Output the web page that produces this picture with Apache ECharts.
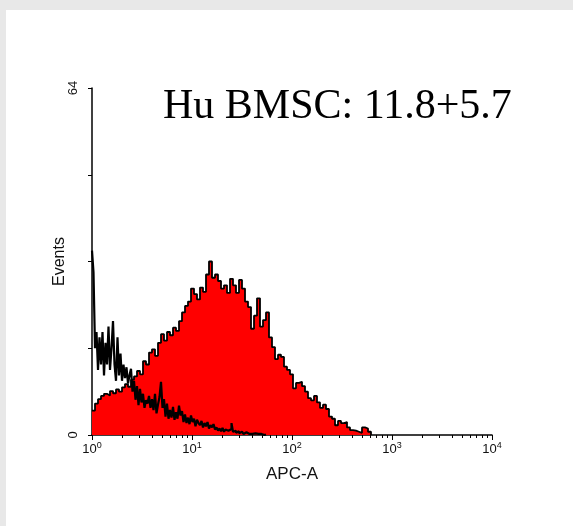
<!DOCTYPE html>
<html>
<head>
<meta charset="utf-8">
<script src="https://cdn.jsdelivr.net/npm/echarts@6/dist/echarts.min.js"></script>
<style>
html,body{margin:0;padding:0;background:#fff;}
#c{width:573px;height:526px;}
</style>
</head>
<body>
<div id="c"></div>
<script>
// Histogram bins: left edges in log10(APC-A) units
const binStartLog = 0;
const stainedBinWidthLog = 0.03;
const controlBinWidthLog = 0.015;
// Red (stained) histogram counts, events per bin
const stainedCounts = [
  4.5, 5.8, 6.6, 7.2, 7.6, 7.3, 8.1, 7.7, 8.4, 8.0,
  8.8, 9.4, 8.9, 10.2, 10.8, 11.8, 11.2, 13.6, 13.0, 15.2,
  15.8, 14.6, 17.0, 18.6, 17.4, 19.0, 18.4, 19.8, 19.2, 21.0,
  22.6, 23.8, 24.6, 27.0, 26.0, 25.0, 27.2, 26.4, 29.6, 32.0,
  29.0, 29.6, 28.4, 27.0, 27.6, 26.2, 28.8, 27.6, 26.2, 28.6,
  27.0, 24.6, 23.6, 19.6, 22.0, 25.2, 20.0, 21.2, 22.6, 18.0,
  16.2, 14.0, 14.8, 14.4, 12.6, 12.0, 11.2, 8.6, 9.6, 9.8,
  9.0, 8.0, 6.8, 6.4, 7.2, 6.0, 5.0, 5.6, 4.8, 3.4,
  3.0, 1.8, 2.6, 2.2, 2.4, 1.4, 0.9, 0.8, 0.6, 0.4,
  1.4, 1.2, 0.6, 0
];
// Black (control) histogram counts, events per bin
const controlCounts = [
  34, 30, 16, 19, 12, 18, 13, 19, 11, 17,
  13, 20, 12, 16, 21, 13, 10, 18, 11, 15,
  10, 13, 10.5, 12.5, 9.5, 11, 12.2, 8, 10, 6.5,
  9, 5.5, 8.5, 6, 7.6, 5, 6.4, 5.8, 7.2, 5,
  6.6, 4.6, 7.6, 4, 5.6, 7, 9.8, 5, 6.6, 3.4,
  5.8, 3, 4.6, 3.2, 5.2, 2.8, 4.2, 3, 5.4, 3.6,
  4.4, 2.4, 3.8, 2.2, 3.2, 2, 3.6, 2.4, 3, 1.6,
  2.8, 2.2, 1.8, 2.6, 1.4, 2.2, 1.6, 2.4, 1.2, 1.8,
  1.4, 2, 1, 1.4, 0.8, 1.2, 0.7, 1.3, 0.6, 1,
  0.8, 0.5, 1.1, 2.2, 0.6, 0.8, 0.4, 0.7, 0.3, 0.6,
  0.4, 0.2, 0.5, 0.3, 0.2, 0.4, 0.2, 0.1, 0.3, 0.1,
  0.2, 0, 0.2, 0.1, 0, 0.1, 0
];
const xDecades = [0, 1, 2, 3, 4];
const yTickLabels = [0, 64];
const titleText = 'Hu BMSC: 11.8+5.7';
const xName = 'APC-A';
const yName = 'Events';

const toPairs = (arr, w) => arr.map((v, i) => [binStartLog + i * w, v]);
const minorTicks = [];
xDecades.slice(0, -1).forEach(d => { for (let m = 2; m <= 9; m++) minorTicks.push(d + Math.log10(m)); });

const chart = echarts.init(document.getElementById('c'), null, {renderer: 'canvas'});
const grid = {left: 92, top: 88, width: 400, height: 347};
chart.setOption({
  animation: false,
  backgroundColor: '#fff',
  title: {
    text: titleText, left: 163, top: 86, padding: 0,
    textStyle: {fontFamily: 'Liberation Serif', fontSize: 42, fontWeight: 'normal', color: '#000'}
  },
  graphic: [
    {type: 'rect', z: -10, shape: {x: 0, y: 0, width: 573, height: 10}, style: {fill: '#e8e8e8'}},
    {type: 'rect', z: -10, shape: {x: 0, y: 0, width: 6, height: 526}, style: {fill: '#e8e8e8'}}
  ],
  grid: grid,
  xAxis: [{
    type: 'value', min: 0, max: 4, interval: 1,
    name: xName, nameLocation: 'middle', nameGap: 31,
    nameTextStyle: {fontFamily: 'Liberation Sans', fontSize: 17, color: '#111'},
    axisLine: {lineStyle: {color: '#000', width: 1.5}},
    axisTick: {length: 5, lineStyle: {color: '#000', width: 1}},
    splitLine: {show: false},
    axisLabel: {
      margin: 6,
      formatter: v => '10{s|' + v + '}',
      fontFamily: 'Liberation Sans', fontSize: 13, color: '#111',
      rich: {s: {fontFamily: 'Liberation Sans', fontSize: 9, color: '#111', padding: [0, 0, 8, 0]}}
    }
  }, {
    type: 'value', min: 0, max: 4, position: 'bottom',
    gridIndex: 0,
    axisLine: {show: false},
    axisLabel: {show: false},
    splitLine: {show: false},
    axisTick: {show: true, length: 3, customValues: minorTicks, lineStyle: {color: '#000', width: 1}}
  }],
  yAxis: {
    type: 'value', min: 0, max: 64, interval: 16,
    name: yName, nameLocation: 'middle', nameGap: 24, nameMoveOverlap: false,
    nameTextStyle: {fontFamily: 'Liberation Sans', fontSize: 16, color: '#111'},
    axisLine: {show: true, lineStyle: {color: '#000', width: 1.5}},
    axisTick: {show: true, length: 4, lineStyle: {color: '#000', width: 1}},
    splitLine: {show: false},
    axisLabel: {
      rotate: 90, margin: 12,
      formatter: v => yTickLabels.indexOf(v) >= 0 ? String(v) : '',
      fontFamily: 'Liberation Sans', fontSize: 13, color: '#111'
    }
  },
  series: [{
    type: 'line', name: 'stained', step: 'end', symbol: 'none',
    data: toPairs(stainedCounts, stainedBinWidthLog),
    lineStyle: {color: '#000', width: 1.8},
    areaStyle: {color: '#ff0000', opacity: 1},
    z: 2
  }, {
    type: 'line', name: 'control', step: 'end', symbol: 'none',
    data: toPairs(controlCounts, controlBinWidthLog),
    lineStyle: {color: '#000', width: 2.2},
    z: 3
  }]
});
</script>
</body>
</html>
